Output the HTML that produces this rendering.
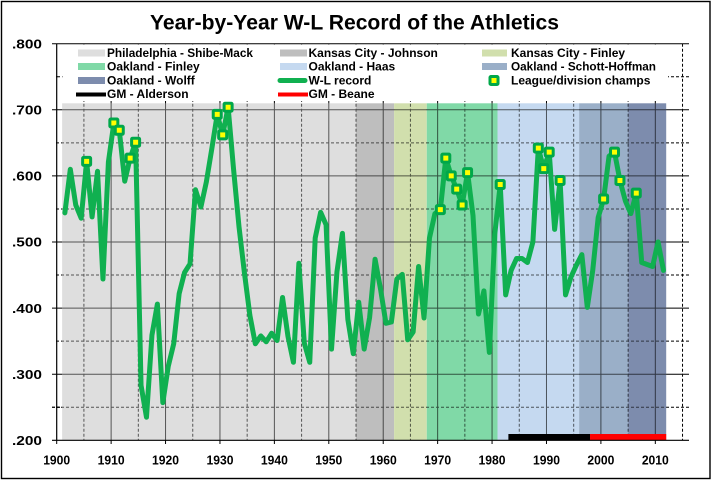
<!DOCTYPE html>
<html>
<head>
<meta charset="utf-8">
<style>
  html, body { margin:0; padding:0; background:#fff; }
  svg { display:block; }
  text { font-family: "Liberation Sans", Arial, sans-serif; font-weight: bold; fill:#000; }
</style>
</head>
<body>
<svg width="713" height="482" viewBox="0 0 713 482" xmlns="http://www.w3.org/2000/svg">
  <defs>
    <clipPath id="bandclip"><rect x="62.14" y="103.3" width="604.06" height="337"/></clipPath>
  </defs>
  <rect x="0" y="0" width="713" height="482" fill="#fff"/>

  <!-- gridlines (black, beneath bands) -->
  <g id="grid" stroke="#000" stroke-width="1" fill="none">
    <g>
      <line x1="52" y1="374.2" x2="689" y2="374.2"/>
      <line x1="52" y1="308.1" x2="689" y2="308.1"/>
      <line x1="52" y1="242.0" x2="689" y2="242.0"/>
      <line x1="52" y1="175.9" x2="689" y2="175.9"/>
      <line x1="52" y1="109.8" x2="689" y2="109.8"/>
      <line x1="52" y1="43.7" x2="689" y2="43.7"/>
    </g>
    <g stroke-dasharray="3,2">
      <line x1="56" y1="407.25" x2="689" y2="407.25"/>
      <line x1="56" y1="341.15" x2="689" y2="341.15"/>
      <line x1="56" y1="275.05" x2="689" y2="275.05"/>
      <line x1="56" y1="208.95" x2="689" y2="208.95"/>
      <line x1="56" y1="142.85" x2="689" y2="142.85"/>
      <line x1="56" y1="76.75" x2="689" y2="76.75"/>
    </g>
    <g>
      <line x1="111.12" y1="43.7" x2="111.12" y2="440.3"/>
      <line x1="165.54" y1="43.7" x2="165.54" y2="440.3"/>
      <line x1="219.96" y1="43.7" x2="219.96" y2="440.3"/>
      <line x1="274.38" y1="43.7" x2="274.38" y2="440.3"/>
      <line x1="328.8" y1="43.7" x2="328.8" y2="440.3"/>
      <line x1="383.22" y1="43.7" x2="383.22" y2="440.3"/>
      <line x1="437.64" y1="43.7" x2="437.64" y2="440.3"/>
      <line x1="492.06" y1="43.7" x2="492.06" y2="440.3"/>
      <line x1="546.48" y1="43.7" x2="546.48" y2="440.3"/>
      <line x1="600.9" y1="43.7" x2="600.9" y2="440.3"/>
      <line x1="655.32" y1="43.7" x2="655.32" y2="440.3"/>
    </g>
    <g stroke-dasharray="3,2">
      <line x1="83.91" y1="43.7" x2="83.91" y2="440.3"/>
      <line x1="138.33" y1="43.7" x2="138.33" y2="440.3"/>
      <line x1="192.75" y1="43.7" x2="192.75" y2="440.3"/>
      <line x1="247.17" y1="43.7" x2="247.17" y2="440.3"/>
      <line x1="301.59" y1="43.7" x2="301.59" y2="440.3"/>
      <line x1="356.01" y1="43.7" x2="356.01" y2="440.3"/>
      <line x1="410.43" y1="43.7" x2="410.43" y2="440.3"/>
      <line x1="464.85" y1="43.7" x2="464.85" y2="440.3"/>
      <line x1="519.27" y1="43.7" x2="519.27" y2="440.3"/>
      <line x1="573.69" y1="43.7" x2="573.69" y2="440.3"/>
      <line x1="628.11" y1="43.7" x2="628.11" y2="440.3"/>
      <line x1="682.53" y1="43.7" x2="682.53" y2="440.3"/>
    </g>
  </g>

  <!-- bands -->
  <rect x="62.14" y="103.3" width="293.87" height="337" fill="#dedede"/>
  <rect x="356.01" y="103.3" width="38.09" height="337" fill="#bebebe"/>
  <rect x="394.10" y="103.3" width="32.66" height="337" fill="#d1dfad"/>
  <rect x="426.76" y="103.3" width="70.74" height="337" fill="#80d9a7"/>
  <rect x="497.50" y="103.3" width="81.63" height="337" fill="#c5d9f0"/>
  <rect x="579.13" y="103.3" width="48.98" height="337" fill="#9aafc8"/>
  <rect x="628.11" y="103.3" width="38.09" height="337" fill="#7d8cad"/>

  <!-- gridlines showing through bands -->
  <use href="#grid" clip-path="url(#bandclip)" opacity="0.62"/>

  <!-- GM bars -->
  <rect x="508.39" y="434" width="81.63" height="6.3" fill="#000"/>
  <rect x="590.02" y="434" width="76.18" height="6.3" fill="#ff0000"/>

  <!-- axes -->
  <g stroke="#000" stroke-width="1.2" fill="none">
    <line x1="56.7" y1="43.7" x2="56.7" y2="440.3"/>
    <line x1="52" y1="440.3" x2="689" y2="440.3"/>
    <line x1="52" y1="407.25" x2="62" y2="407.25" stroke-dasharray="3,2"/>
  </g>
  <g stroke="#000" stroke-width="1">
    <line x1="56.7" y1="440" x2="56.7" y2="444"/>
    <line x1="111.12" y1="440" x2="111.12" y2="444"/>
    <line x1="165.54" y1="440" x2="165.54" y2="444"/>
    <line x1="219.96" y1="440" x2="219.96" y2="444"/>
    <line x1="274.38" y1="440" x2="274.38" y2="444"/>
    <line x1="328.8" y1="440" x2="328.8" y2="444"/>
    <line x1="383.22" y1="440" x2="383.22" y2="444"/>
    <line x1="437.64" y1="440" x2="437.64" y2="444"/>
    <line x1="492.06" y1="440" x2="492.06" y2="444"/>
    <line x1="546.48" y1="440" x2="546.48" y2="444"/>
    <line x1="600.9" y1="440" x2="600.9" y2="444"/>
    <line x1="655.32" y1="440" x2="655.32" y2="444"/>
  </g>

  <!-- legend -->
  <rect x="57.5" y="44.5" width="610.5" height="56.5" fill="#fff"/>
  <line x1="57" y1="76.75" x2="62.5" y2="76.75" stroke="#000" stroke-width="1" stroke-dasharray="3,2"/>
  <g font-size="12">
    <rect x="78" y="49.5" width="27" height="7" fill="#dedede"/>
    <text x="107" y="57" textLength="146" lengthAdjust="spacingAndGlyphs">Philadelphia - Shibe-Mack</text>
    <rect x="280" y="49.5" width="27" height="7" fill="#bebebe"/>
    <text x="308.5" y="57">Kansas City - Johnson</text>
    <rect x="482" y="49.5" width="25" height="7" fill="#d1dfad"/>
    <text x="511" y="57">Kansas City - Finley</text>

    <rect x="78" y="63" width="27" height="7" fill="#80d9a7"/>
    <text x="107" y="70.5">Oakland - Finley</text>
    <rect x="280" y="63" width="27" height="7" fill="#c5d9f0"/>
    <text x="308.5" y="70.5">Oakland - Haas</text>
    <rect x="482" y="63" width="25" height="7" fill="#9aafc8"/>
    <text x="511" y="70.5" textLength="145" lengthAdjust="spacingAndGlyphs">Oakland - Schott-Hoffman</text>

    <rect x="78" y="77" width="27" height="7" fill="#7d8cad"/>
    <text x="107" y="84.3">Oakland - Wolff</text>
    <line x1="280" y1="80.5" x2="305" y2="80.5" stroke="#10b050" stroke-width="5" stroke-linecap="round"/>
    <text x="308.5" y="84.3">W-L record</text>
    <rect x="490" y="76.5" width="8" height="8" fill="#ffff00" stroke="#00a84a" stroke-width="3" rx="1"/>
    <text x="511" y="84.3">League/division champs</text>

    <line x1="76" y1="94.5" x2="106" y2="94.5" stroke="#000" stroke-width="4"/>
    <text x="107" y="98">GM - Alderson</text>
    <line x1="278" y1="94.5" x2="308" y2="94.5" stroke="#ff0000" stroke-width="4"/>
    <text x="308.5" y="98">GM - Beane</text>
  </g>

  <!-- W-L series -->
  <polyline fill="none" stroke="#10b050" stroke-width="5" stroke-linejoin="round" stroke-linecap="round"
    points="64.86,212.9 70.31,169.3 75.75,205.0 81.19,218.2 86.63,161.4 92.07,216.9 97.52,171.3 102.96,279.0 108.40,162.0 113.84,123.0 119.28,130.3 124.73,181.2 130.17,158.1 135.61,142.2 141.05,385.4 146.49,417.2 151.94,335.2 157.38,304.1 162.82,402.6 168.26,366.3 173.70,343.8 179.15,293.6 184.59,272.4 190.03,263.8 195.47,189.8 200.91,207.0 206.36,181.9 211.80,148.8 217.24,114.4 222.68,134.9 228.12,107.2 233.57,169.3 239.01,226.8 244.45,273.1 249.89,315.4 255.33,343.8 260.78,335.9 266.22,341.8 271.66,333.2 277.10,340.5 282.54,297.5 287.99,336.5 293.43,362.3 298.87,263.2 304.31,343.1 309.75,362.3 315.20,238.0 320.64,212.3 326.08,224.8 331.52,349.1 336.96,271.7 342.41,233.4 347.85,319.3 353.29,353.7 358.73,302.2 364.17,349.1 369.62,317.4 375.06,259.2 380.50,288.9 385.94,323.3 391.38,322.0 396.83,279.0 402.27,274.4 407.71,339.8 413.15,331.9 418.59,266.5 424.04,318.0 429.48,238.0 434.92,213.6 440.36,209.6 445.80,158.1 451.25,175.9 456.69,189.1 462.13,205.0 467.57,172.6 473.01,215.6 478.46,314.0 483.90,290.9 489.34,352.4 494.78,234.1 500.22,184.5 505.67,294.9 511.11,270.4 516.55,258.5 521.99,258.5 527.43,262.5 532.88,242.0 538.32,148.1 543.76,168.6 549.20,152.1 554.64,229.4 560.09,180.5 565.53,294.9 570.97,277.0 576.41,265.1 581.85,254.6 587.30,307.4 592.74,270.4 598.18,217.5 603.62,199.0 609.06,156.1 614.51,152.1 619.95,180.5 625.39,201.0 630.83,213.6 636.27,193.1 641.72,262.5 647.16,264.5 652.60,266.5 658.04,242.0 663.48,270.4"/>

  <!-- champion markers -->
  <g fill="#ffff00" stroke="#00a84a" stroke-width="3">
    <rect x="82.63" y="157.4" width="8" height="8" rx="1"/>
    <rect x="109.84" y="119.0" width="8" height="8" rx="1"/>
    <rect x="115.28" y="126.3" width="8" height="8" rx="1"/>
    <rect x="126.17" y="154.1" width="8" height="8" rx="1"/>
    <rect x="131.61" y="138.2" width="8" height="8" rx="1"/>
    <rect x="213.24" y="110.4" width="8" height="8" rx="1"/>
    <rect x="218.68" y="130.9" width="8" height="8" rx="1"/>
    <rect x="224.12" y="103.2" width="8" height="8" rx="1"/>
    <rect x="436.36" y="205.6" width="8" height="8" rx="1"/>
    <rect x="441.80" y="154.1" width="8" height="8" rx="1"/>
    <rect x="447.25" y="171.9" width="8" height="8" rx="1"/>
    <rect x="452.69" y="185.1" width="8" height="8" rx="1"/>
    <rect x="458.13" y="201.0" width="8" height="8" rx="1"/>
    <rect x="463.57" y="168.6" width="8" height="8" rx="1"/>
    <rect x="496.22" y="180.5" width="8" height="8" rx="1"/>
    <rect x="534.32" y="144.1" width="8" height="8" rx="1"/>
    <rect x="539.76" y="164.6" width="8" height="8" rx="1"/>
    <rect x="545.20" y="148.1" width="8" height="8" rx="1"/>
    <rect x="556.09" y="176.5" width="8" height="8" rx="1"/>
    <rect x="599.62" y="195.0" width="8" height="8" rx="1"/>
    <rect x="610.51" y="148.1" width="8" height="8" rx="1"/>
    <rect x="615.95" y="176.5" width="8" height="8" rx="1"/>
    <rect x="632.27" y="189.1" width="8" height="8" rx="1"/>
  </g>

  <!-- title -->
  <text x="354.5" y="29.5" font-size="21.5" text-anchor="middle" textLength="409" lengthAdjust="spacingAndGlyphs">Year-by-Year W-L Record of the Athletics</text>

  <!-- y labels -->
  <g font-size="13" text-anchor="end">
    <text x="42" y="48.6" textLength="30" lengthAdjust="spacingAndGlyphs">.800</text>
    <text x="42" y="114.5" textLength="30" lengthAdjust="spacingAndGlyphs">.700</text>
    <text x="42" y="180.6" textLength="30" lengthAdjust="spacingAndGlyphs">.600</text>
    <text x="42" y="246.7" textLength="30" lengthAdjust="spacingAndGlyphs">.500</text>
    <text x="42" y="312.8" textLength="30" lengthAdjust="spacingAndGlyphs">.400</text>
    <text x="42" y="378.9" textLength="30" lengthAdjust="spacingAndGlyphs">.300</text>
    <text x="42" y="445.0" textLength="30" lengthAdjust="spacingAndGlyphs">.200</text>
  </g>

  <!-- x labels -->
  <g font-size="12.5" text-anchor="middle">
    <text x="56.7" y="464.5" textLength="27" lengthAdjust="spacingAndGlyphs">1900</text>
    <text x="111.12" y="464.5" textLength="27" lengthAdjust="spacingAndGlyphs">1910</text>
    <text x="165.54" y="464.5" textLength="27" lengthAdjust="spacingAndGlyphs">1920</text>
    <text x="219.96" y="464.5" textLength="27" lengthAdjust="spacingAndGlyphs">1930</text>
    <text x="274.38" y="464.5" textLength="27" lengthAdjust="spacingAndGlyphs">1940</text>
    <text x="328.8" y="464.5" textLength="27" lengthAdjust="spacingAndGlyphs">1950</text>
    <text x="383.22" y="464.5" textLength="27" lengthAdjust="spacingAndGlyphs">1960</text>
    <text x="437.64" y="464.5" textLength="27" lengthAdjust="spacingAndGlyphs">1970</text>
    <text x="492.06" y="464.5" textLength="27" lengthAdjust="spacingAndGlyphs">1980</text>
    <text x="546.48" y="464.5" textLength="27" lengthAdjust="spacingAndGlyphs">1990</text>
    <text x="600.9" y="464.5" textLength="27" lengthAdjust="spacingAndGlyphs">2000</text>
    <text x="655.32" y="464.5" textLength="27" lengthAdjust="spacingAndGlyphs">2010</text>
  </g>

  <!-- outer border -->
  <rect x="1.5" y="1.5" width="708.5" height="477" fill="none" stroke="#000" stroke-width="1.4"/>
</svg>
</body>
</html>
